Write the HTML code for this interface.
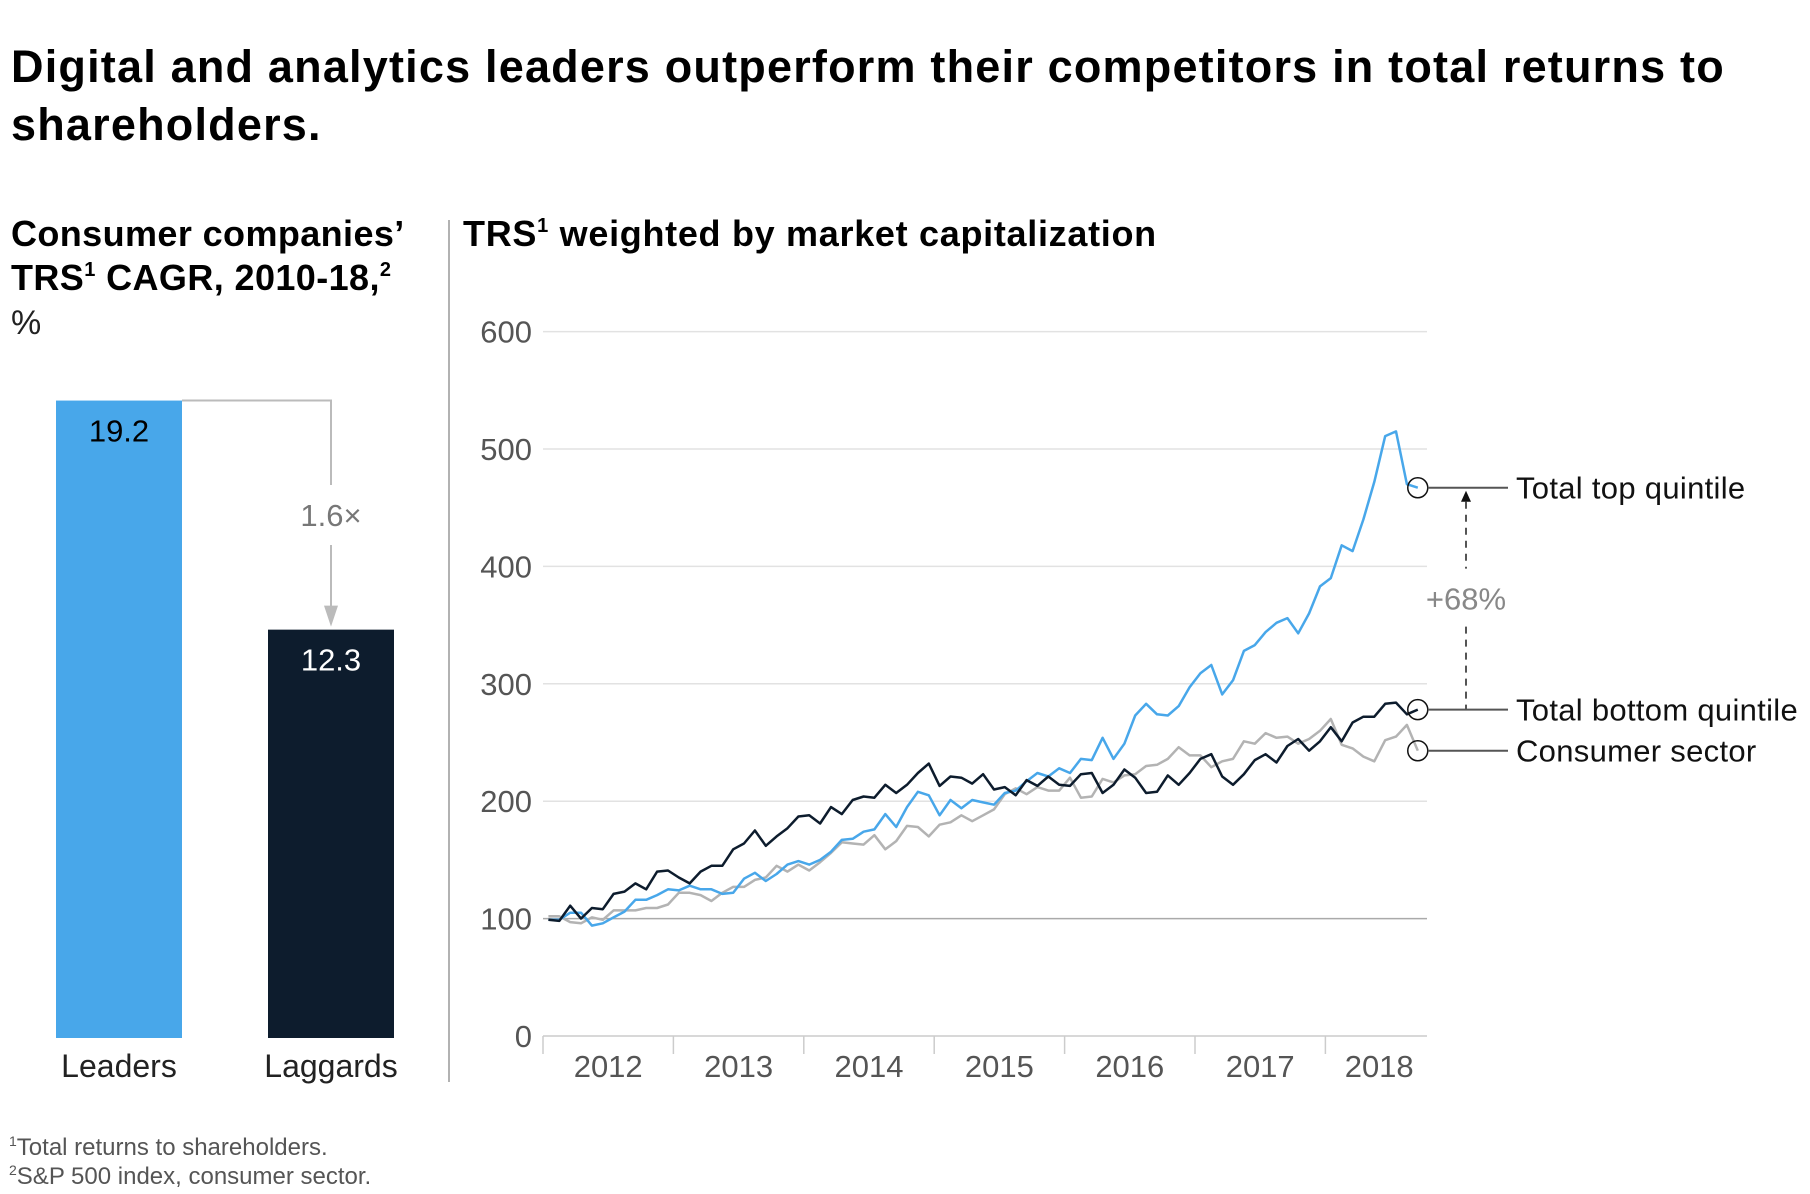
<!DOCTYPE html>
<html><head><meta charset="utf-8"><style>
html,body{margin:0;padding:0;background:#fff;}
svg{display:block;font-family:"Liberation Sans",Arial,sans-serif;}
</style></head><body>
<svg id="chart" width="1810" height="1194" viewBox="0 0 1810 1194">
<g font-size="45" font-weight="bold" fill="#000" letter-spacing="1.2">
<text x="11" y="82">Digital and analytics leaders outperform their competitors in total returns to</text>
<text x="11" y="140">shareholders.</text>
</g>
<g font-size="36" font-weight="bold" fill="#000" letter-spacing="0.4">
<text x="11" y="246">Consumer companies’</text>
<text x="11" y="290">TRS<tspan font-size="20" dy="-14">1</tspan><tspan dy="14"> CAGR, 2010-18,</tspan><tspan font-size="20" dy="-14">2</tspan></text>
</g>
<text x="11" y="334" font-size="34" fill="#222">%</text>
<line x1="449" y1="220" x2="449" y2="1082" stroke="#999" stroke-width="1.5"/>
<text x="463" y="246" font-size="36" font-weight="bold" fill="#000" letter-spacing="0.7">TRS<tspan font-size="20" dy="-14">1</tspan><tspan dy="14"> weighted by market capitalization</tspan></text>
<g id="bars"></g>
<g id="lines"></g>
<g font-size="24" fill="#555">
<text x="9" y="1155"><tspan font-size="14" dy="-9">1</tspan><tspan dy="9">Total returns to shareholders.</tspan></text>
<text x="9" y="1184"><tspan font-size="14" dy="-9">2</tspan><tspan dy="9">S&amp;P 500 index, consumer sector.</tspan></text>
</g>
</svg>
<script>
const barCategories = ["Leaders", "Laggards"];
const barValues = [19.2, 12.3];
const barMultiplier = "1.6×";

const yTicks = [0, 100, 200, 300, 400, 500, 600];
const years = ["2012", "2013", "2014", "2015", "2016", "2017", "2018"];
const topQuintile = [99,99,105,105,94,96,101,106,116,116,120,125,124,128,125,125,121,122,134,139,132,138,146,149,146,150,157,167,168,174,176,189,178,195,208,205,188,201,194,201,199,197,207,209,217,224,221,228,224,236,235,254,236,249,273,283,274,273,281,297,309,316,291,303,328,333,344,352,356,343,360,383,390,418,413,440,472,511,515,470,467];
const bottomQuintile = [99,98,111,100,109,108,121,123,130,125,140,141,135,130,140,145,145,159,164,175,162,170,177,187,188,181,195,189,201,204,203,214,207,214,224,232,213,221,220,215,223,210,212,205,218,213,221,214,213,223,224,207,214,227,220,207,208,222,214,224,236,240,221,214,223,235,240,233,247,253,243,251,263,251,267,272,272,283,284,274,278];
const consumerSector = [102,102,97,96,101,99,107,107,107,109,109,112,122,122,120,115,122,127,127,133,135,145,140,146,141,148,156,165,164,163,171,159,166,179,178,170,180,182,188,183,188,193,206,211,206,212,209,209,220,203,204,219,216,222,223,230,231,236,246,239,239,229,234,236,251,249,258,254,255,249,253,260,270,248,245,238,234,252,255,265,243];
const seriesLabels = ["Total top quintile", "Total bottom quintile", "Consumer sector"];
const gapLabel = "+68%";

const NS = "http://www.w3.org/2000/svg";
function mk(tag, attrs, parent, text) {
  const e = document.createElementNS(NS, tag);
  for (const k in attrs) e.setAttribute(k, attrs[k]);
  if (text !== undefined) e.textContent = text;
  parent.appendChild(e);
  return e;
}

// ---- bar chart ----
const bars = document.getElementById('bars');
const barBase = 1038, barScale = 33.2, barW = 126;
const barX = i => 56 + i * 212;
const barY = v => barBase - v * barScale;
const barColors = ["#48a7ea", "#0d1c2d"];
const barTextColors = ["#000", "#fff"];
barValues.forEach((v, i) => {
  const r = mk('rect', {x: barX(i), y: barY(v), width: barW, height: barBase - barY(v), fill: barColors[i]}, bars);
  
  
  const t = mk('text', {x: barX(i) + barW / 2, y: barY(v) + 41, 'font-size': 31, 'text-anchor': 'middle', fill: barTextColors[i]}, bars, v.toFixed(1));
  
  
  const c = mk('text', {x: barX(i) + barW / 2, y: 1077, 'font-size': 32, 'text-anchor': 'middle', fill: '#222'}, bars, barCategories[i]);
  
  
});
const cx = barX(1) + barW / 2;
const conn = mk('path', {d: `M${barX(0) + barW} ${barY(barValues[0])} H${cx} V485 M${cx} 545 V${barY(barValues[1]) - 22}`, fill: 'none', stroke: '#bbb', 'stroke-width': 2}, bars);


const arr = mk('path', {d: `M${cx - 7} ${barY(barValues[1]) - 24} L${cx + 7} ${barY(barValues[1]) - 24} L${cx} ${barY(barValues[1]) - 3} Z`, fill: '#bbb'}, bars);


const mult = mk('text', {x: cx, y: 526, 'font-size': 31, 'text-anchor': 'middle', fill: '#777'}, bars, barMultiplier);



// ---- line chart ----
const lines = document.getElementById('lines');
const x0 = 543, x1 = 1427, yZero = 1036, per100 = 117.4;
const yScale = v => yZero - v / 100 * per100;
const yearW = 130.4, step = yearW / 12;
const xScale = i => x0 + (i + 0.5) * step;

yTicks.forEach(t => {
  const g = mk('line', {x1: x0, x2: x1, y1: yScale(t), y2: yScale(t), stroke: t === 100 ? '#aaa' : (t === 0 ? '#ccc' : '#e2e2e2'), 'stroke-width': 1.5}, lines);
  
  
  const l = mk('text', {x: 532, y: yScale(t) + 11, 'font-size': 31, 'text-anchor': 'end', fill: '#555'}, lines, String(t));
  
  
});
years.forEach((y, i) => {
  const tx = x0 + i * yearW;
  const tk = mk('line', {x1: tx, x2: tx, y1: yZero, y2: yZero + 18, stroke: '#ccc', 'stroke-width': 1.5}, lines);
  
  
  const lx = i === years.length - 1 ? (tx + x1) / 2 + 3 : tx + yearW / 2;
  const l = mk('text', {x: lx, y: 1077, 'font-size': 31, 'text-anchor': 'middle', fill: '#555'}, lines, y);
  
  
});

const series = [
  {data: consumerSector, color: '#b3b3b3', name: 'line-consumer-sector'},
  {data: topQuintile, color: '#48a7ea', name: 'line-top-quintile'},
  {data: bottomQuintile, color: '#0d1c2d', name: 'line-bottom-quintile'}
];
series.forEach(s => {
  const d = s.data.map((v, i) => (i ? 'L' : 'M') + xScale(i).toFixed(1) + ' ' + yScale(v).toFixed(1)).join(' ');
  const p = mk('path', {d: d, fill: 'none', stroke: s.color, 'stroke-width': 2.5, 'stroke-linejoin': 'round'}, lines);
  
  
});

const ends = [topQuintile, bottomQuintile, consumerSector];
const lastX = xScale(topQuintile.length - 1);
ends.forEach((arrD, k) => {
  const v = arrD[arrD.length - 1];
  const cy = yScale(v);
  const c = mk('circle', {cx: lastX, cy: cy, r: 10, fill: 'none', stroke: '#111', 'stroke-width': 1.5}, lines);
  
  
  const ln = mk('line', {x1: lastX + 10, x2: 1508, y1: cy, y2: cy, stroke: '#555', 'stroke-width': 2}, lines);
  
  
  const t = mk('text', {x: 1516, y: cy + 11, 'font-size': 31, fill: '#111', 'letter-spacing': 0.3}, lines, seriesLabels[k]);
  
  
});
const yTop = yScale(topQuintile[topQuintile.length - 1]);
const yBot = yScale(bottomQuintile[bottomQuintile.length - 1]);
const mid = (yTop + yBot) / 2;
const dash = mk('path', {d: `M1466 ${yTop + 14} V${mid - 30} M1466 ${mid + 28} V${yBot}`, stroke: '#555', 'stroke-width': 2, 'stroke-dasharray': '7 6', fill: 'none'}, lines);


const ah = mk('path', {d: `M1461 ${yTop + 14} L1471 ${yTop + 14} L1466 ${yTop + 3} Z`, fill: '#111'}, lines);


const gl = mk('text', {x: 1466, y: mid + 11, 'font-size': 31, 'text-anchor': 'middle', fill: '#888'}, lines, gapLabel);


</script>
</body></html>
